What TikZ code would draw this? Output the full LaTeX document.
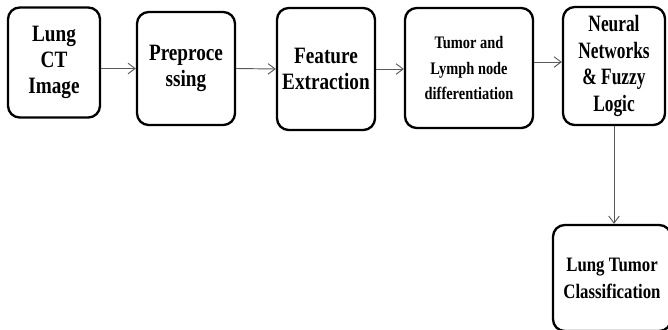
\documentclass[tikz,border=0pt]{standalone}
\usepackage{fontspec}
\setmainfont{Liberation Serif}
\newfontfamily\boxfont[FakeStretch=0.82]{Liberation Serif}
\newfontfamily\narrowfont[FakeStretch=0.74]{Liberation Serif}
\usetikzlibrary{arrows.meta}

\begin{document}
\begin{tikzpicture}[x=0.03cm, y=-0.03cm,
  stage/.style={draw, line width=2pt, rounded corners=10pt, align=center,
    inner sep=0pt, font=\boxfont\bfseries\fontsize{20}{22}\selectfont},
  flow/.style={-{Straight Barb[length=6pt,width=9pt]}, draw=black!65, line width=0.8pt}]
  \useasboundingbox (0,0) rectangle (668,329);
  \node [stage, minimum width=92*0.03cm, minimum height=110*0.03cm] (ct) at (54,62.5) {Lung\\CT\\Image};
  \node [stage, minimum width=98*0.03cm, minimum height=113*0.03cm] (pre) at (186,68.5) {Preproce\\ssing};
  \node [stage, minimum width=98*0.03cm, minimum height=122*0.03cm] (feat) at (326,69) {Feature\\Extraction};
  \node [stage, minimum width=128*0.03cm, minimum height=120*0.03cm,
    font=\boxfont\bfseries\fontsize{15}{22}\selectfont] (diff) at (469,68) {Tumor and\\Lymph node\\differentiation};
  \node [stage, minimum width=102*0.03cm, minimum height=118*0.03cm,
    font=\narrowfont\bfseries\fontsize{20}{22.7}\selectfont] (nn) at (614,66) {Neural\\Networks\\\& Fuzzy\\Logic};
  \node [stage, minimum width=118*0.03cm, minimum height=106*0.03cm,
    font=\boxfont\bfseries\fontsize{17.5}{23}\selectfont] (cls) at (612,278) {Lung Tumor\\Classification};
  \draw [flow] (ct.east |- pre.west) -- (pre.west);
  \draw [flow] (pre.east) -- (feat.west);
  \draw [flow] (feat.east) -- (feat.east -| diff.west);
  \draw [flow] ([yshift=0.12cm]diff.east |- nn.west) -- ([yshift=0.12cm]nn.west);
  \draw [flow] (nn.south) -- (nn.south |- cls.north);
\end{tikzpicture}
\end{document}
